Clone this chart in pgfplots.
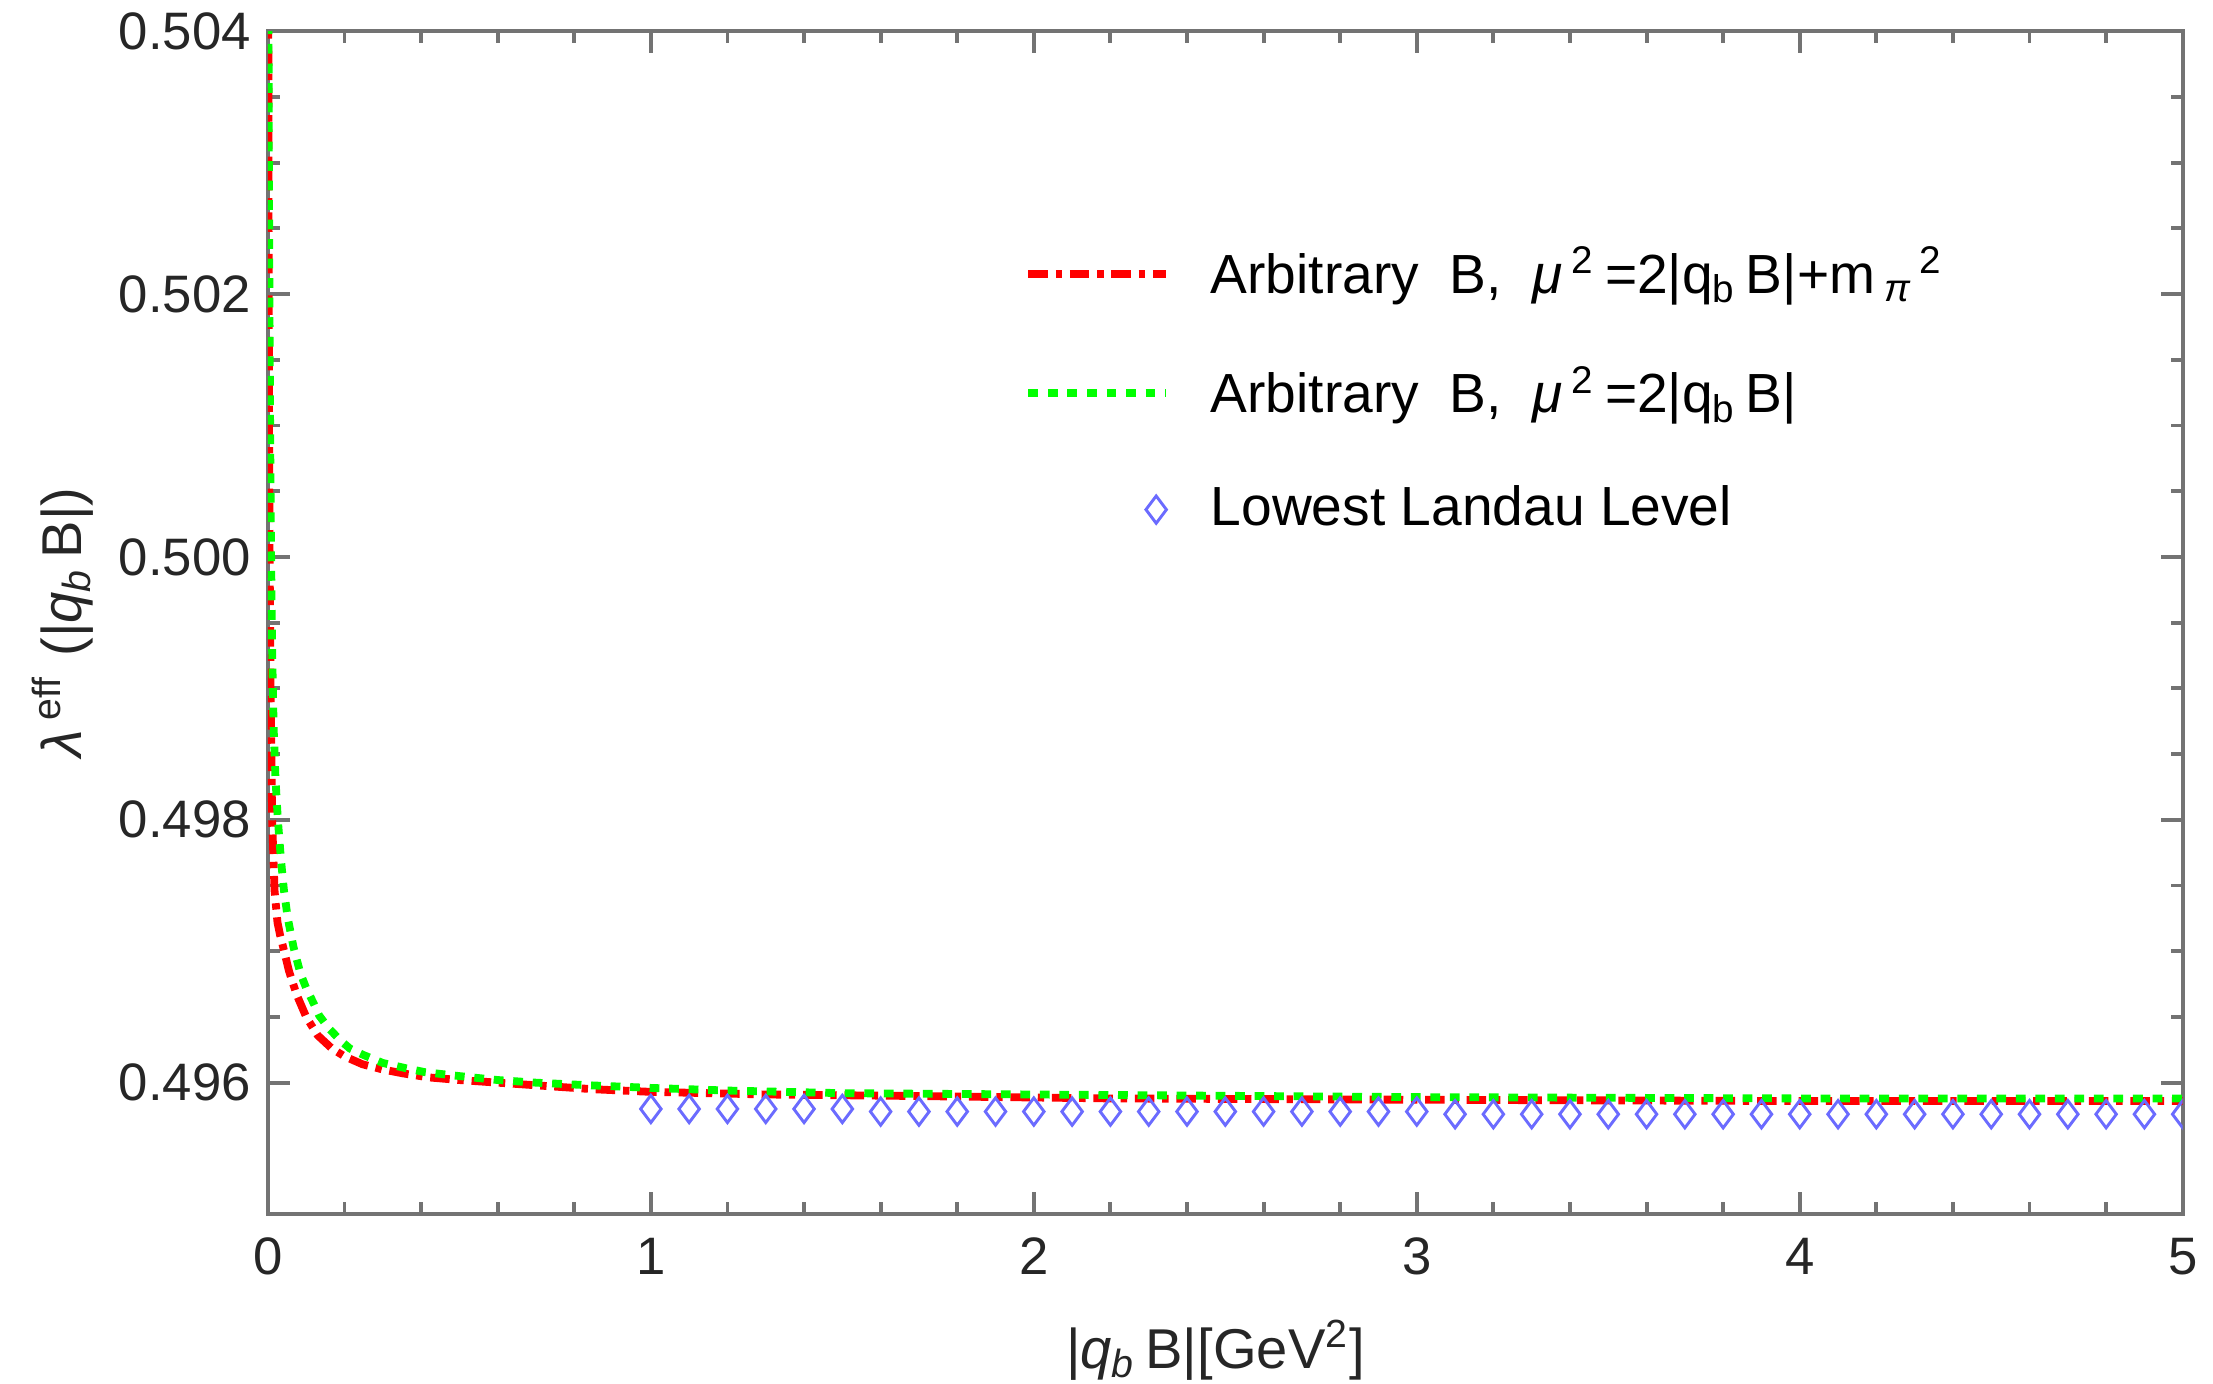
\documentclass[border=0pt]{standalone}
\usepackage{pgfplots}
\pgfplotsset{compat=1.18}
\usepackage{fontspec}
\setmainfont{Liberation Sans}
\definecolor{framegray}{gray}{0.45}
\definecolor{lllblue}{rgb}{0.42,0.42,1}
\pgfplotsset{lllegend/.style={legend image code/.code={\draw[##1] plot coordinates {(0.92cm,0cm)}; \path (1.215cm,0cm);}}}
\begin{document}
\begin{tikzpicture}
\useasboundingbox (-54.9pt,-34.8pt) rectangle (398.6pt,248.8pt);
\begin{axis}[
 at={(0pt,0pt)}, anchor=south west,
 scale only axis, width=392.4pt, height=242.4pt,
 xmin=0, xmax=5, ymin=0.495, ymax=0.504,
 xtick={0,1,2,3,4,5}, ytick={0.496,0.498,0.500,0.502,0.504},
 minor x tick num=4, minor y tick num=3,
 tick align=inside, major tick length=4.5pt, minor tick length=2.4pt,
 axis line style={framegray, line width=0.8pt},
 every tick/.style={framegray, line width=0.8pt},
 /pgf/number format/assume math mode=true,
 yticklabel style={/pgf/number format/.cd, fixed, fixed zerofill, precision=3},
 xticklabel style={yshift=-1.4pt},
 tick label style={font=\fontsize{10.8}{12}\selectfont, text=black!85},
 xlabel={|\textit{q}\textsubscript{\textit{b}}\,B|[GeV\textsuperscript{2}]},
 ylabel={\textit{λ}\,\textsuperscript{eff}\,\,(|\textit{q}\textsubscript{\textit{b}}\,B|)},
 label style={font=\fontsize{11.5}{13}\selectfont, text=black!85},
 x label style={at={(axis description cs:0.495,-0.115)}, anchor=center},
 y label style={at={(axis description cs:-0.107,0.5)}, anchor=center},
 legend cell align=left,
 legend style={at={(axis cs:1.935,0.502515)}, anchor=north west, draw=none, fill=none,
   font=\fontsize{11.3}{13}\selectfont, row sep=9.5pt},
 legend image code/.code={\draw[#1] (0cm,0cm) -- (0.99cm,0cm); \path (1.215cm,0cm);},
 clip marker paths=true,
]
\addplot[red, line width=1.6pt, dash pattern=on 4pt off 1.6pt on 1.3pt off 1.6pt] coordinates {
(0.0010,0.5042) (0.0018,0.5025) (0.0030,0.5010) (0.0045,0.5000) (0.0070,0.4990)
(0.0110,0.4980) (0.0174,0.49746) (0.025,0.49722) (0.032,0.49712) (0.040,0.49703)
(0.055,0.49685) (0.075,0.49667) (0.10,0.49650) (0.13,0.49636) (0.167,0.49626)
(0.20,0.49620) (0.247,0.49614) (0.30,0.49610) (0.354,0.49607) (0.42,0.49604)
(0.50,0.49602) (0.60,0.49600) (0.70,0.49598) (0.85,0.49595) (1.0,0.49593)
(1.3,0.49591) (1.64,0.49590) (2.2,0.49588) (3.0,0.49587) (4.0,0.49586) (5.0,0.49586)
};
\addlegendentry{Arbitrary\ \ B,\ \ \textit{μ}\,\textsuperscript{2}\,=2|q\textsubscript{b}\,B|+m\,\textsubscript{\textit{π}}\textsuperscript{\,2}}
\addplot[green, line width=1.6pt, dash pattern=on 2pt off 2pt] coordinates {
(0.0015,0.5042) (0.0025,0.5030) (0.0040,0.5020) (0.0060,0.5009) (0.0080,0.5001)
(0.011,0.4993) (0.015,0.4987) (0.020,0.4983) (0.026,0.4980) (0.034,0.4977)
(0.042,0.49746) (0.052,0.49725) (0.067,0.49703) (0.085,0.49683) (0.10,0.49672)
(0.12,0.49660) (0.134,0.49651) (0.16,0.49641) (0.19,0.49632) (0.214,0.49626)
(0.25,0.49621) (0.30,0.49615) (0.36,0.49611) (0.41,0.49608) (0.50,0.49605)
(0.60,0.49602) (0.70,0.49600) (0.84,0.49598) (1.0,0.49596) (1.2,0.49594)
(1.5,0.49592) (2.0,0.49591) (2.5,0.49590) (3.0,0.49589) (4.0,0.49588) (5.0,0.49588)
};
\addlegendentry{Arbitrary\ \ B,\ \ \textit{μ}\,\textsuperscript{2}\,=2|q\textsubscript{b}\,B|}
\addplot[only marks, mark=diamond, mark size=2.8pt, lllblue, mark options={line width=0.6pt}, lllegend] coordinates {
(1.0,0.49580) (1.1,0.49580) (1.2,0.49580) (1.3,0.49580) (1.4,0.49580) (1.5,0.49580)
(1.6,0.49578) (1.7,0.49578) (1.8,0.49578) (1.9,0.49578) (2.0,0.49578) (2.1,0.49578)
(2.2,0.49578) (2.3,0.49578) (2.4,0.49578) (2.5,0.49578) (2.6,0.49578) (2.7,0.49578)
(2.8,0.49578) (2.9,0.49578) (3.0,0.49578) (3.1,0.49576) (3.2,0.49576) (3.3,0.49576)
(3.4,0.49576) (3.5,0.49576) (3.6,0.49576) (3.7,0.49576) (3.8,0.49576) (3.9,0.49576)
(4.0,0.49576) (4.1,0.49576) (4.2,0.49576) (4.3,0.49576) (4.4,0.49576) (4.5,0.49576)
(4.6,0.49576) (4.7,0.49576) (4.8,0.49576) (4.9,0.49576) (5.0,0.49576)
};
\addlegendentry{Lowest\ Landau\ Level}
\end{axis}
\end{tikzpicture}
\end{document}
